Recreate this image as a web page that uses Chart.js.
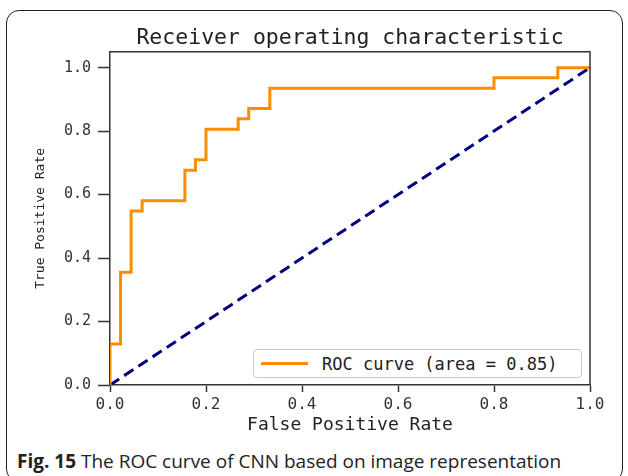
<!DOCTYPE html>
<html lang="en">
<head>
  <meta charset="UTF-8">
  <title>Receiver operating characteristic</title>
  <script src="https://cdn.jsdelivr.net/npm/chart.js"></script>
  <style>
    body {
      margin: 0;
      background: #ffffff;
      width: 628px;
      height: 476px;
      overflow: hidden;
      position: relative;
    }
    .frame {
      position: absolute;
      left: 6px;
      top: 10px;
      width: 617px;
      height: 472px;
      border: 1.5px solid #222;
      border-radius: 13px;
      box-sizing: border-box;
    }
    .chart-box {
      position: absolute;
      left: 0;
      top: 0;
      width: 628px;
      height: 440px;
    }
    .legend {
      position: absolute;
      left: 253px;
      top: 349px;
      width: 329px;
      height: 29px;
      border: 1px solid #cccccc;
      border-radius: 4px;
      background: #ffffff;
      box-sizing: border-box;
      font-family: "DejaVu Sans Mono", monospace;
      font-size: 17px;
      color: #222;
    }
    .legend .swatch {
      position: absolute;
      left: 7px;
      top: 12px;
      width: 47px;
      height: 3px;
      background: #ff8c00;
    }
    .legend .label {
      position: absolute;
      left: 68px;
      top: 4px;
      white-space: pre;
    }
    .caption {
      position: absolute;
      left: 17px;
      top: 448px;
      font-family: "Open Sans", sans-serif;
      font-size: 19px;
      color: #222;
      white-space: nowrap;
    }
  </style>
</head>
<body>
  <div class="frame"></div>
  <div class="chart-box">
    <canvas id="myChart" width="628" height="440"></canvas>
  </div>
  <div class="legend" id="legend"></div>
  <div class="caption"><b>Fig. 15</b> The ROC curve of CNN based on image representation</div>

  <script>
    // ROC curve corners
    const fpr = [0, 0, 0.022, 0.022, 0.044, 0.044, 0.067, 0.067, 0.156, 0.156, 0.178, 0.178,
                 0.2, 0.2, 0.267, 0.267, 0.289, 0.289, 0.333, 0.333, 0.8, 0.8, 0.933, 0.933, 1.0];
    const tpr = [0, 0.129, 0.129, 0.355, 0.355, 0.548, 0.548, 0.581, 0.581, 0.677, 0.677, 0.71,
                 0.71, 0.806, 0.806, 0.839, 0.839, 0.871, 0.871, 0.935, 0.935, 0.968, 0.968, 1.0, 1.0];
    // chance line
    const chanceX = [0, 1];
    const chanceY = [0, 1];
    const rocLabel = 'ROC curve (area = 0.85)';
    const yTickValues = [0, 0.2, 0.4, 0.6, 0.8, 1.0];

    const toPoints = (xs, ys) => xs.map((x, i) => ({ x: x, y: ys[i] }));

    // draw the top and right spines too
    const boxPlugin = {
      id: 'box',
      afterDraw(chart) {
        const { ctx, chartArea } = chart;
        ctx.save();
        ctx.strokeStyle = '#333';
        ctx.lineWidth = 1.5;
        ctx.beginPath();
        ctx.moveTo(chartArea.left, chartArea.top);
        ctx.lineTo(chartArea.right, chartArea.top);
        ctx.lineTo(chartArea.right, chartArea.bottom);
        ctx.stroke();
        ctx.restore();
      }
    };

    const mono = '"DejaVu Sans Mono", monospace';

    const config = {
      type: 'scatter',
      data: {
        datasets: [
          {
            label: rocLabel,
            data: toPoints(fpr, tpr),
            showLine: true,
            borderColor: '#ff8c00',
            borderWidth: 3,
            pointRadius: 0,
            tension: 0
          },
          {
            label: 'chance',
            data: toPoints(chanceX, chanceY),
            showLine: true,
            borderColor: '#000080',
            borderWidth: 3,
            borderDash: [11, 6],
            pointRadius: 0
          }
        ]
      },
      options: {
        responsive: false,
        animation: false,
        layout: {
          padding: { left: 0, right: 38, top: 0, bottom: 2 }
        },
        plugins: {
          legend: { display: false },
          tooltip: { enabled: false },
          title: {
            display: true,
            fullSize: false,
            text: 'Receiver operating characteristic',
            color: '#222',
            font: { family: mono, size: 21.5, weight: 'normal' },
            padding: { top: 26, bottom: 0 }
          }
        },
        scales: {
          x: {
            type: 'linear',
            min: 0,
            max: 1,
            border: { display: true, color: '#333', width: 1.5 },
            grid: { drawOnChartArea: false, drawTicks: true, tickLength: 7, color: '#333', tickWidth: 1.5 },
            ticks: {
              stepSize: 0.2,
              padding: 3,
              color: '#333',
              font: { family: mono, size: 16 },
              maxRotation: 0,
              callback: v => v.toFixed(1)
            },
            title: {
              display: true,
              text: 'False Positive Rate',
              color: '#222',
              font: { family: mono, size: 18 },
              padding: { top: 0, bottom: 2 }
            },
            afterFit(scale) { scale.height = 53; }
          },
          y: {
            type: 'linear',
            min: 0,
            max: 1.05,
            border: { display: true, color: '#333', width: 1.5 },
            grid: { drawOnChartArea: false, drawTicks: true, tickLength: 12, color: '#333', tickWidth: 1.5 },
            ticks: {
              stepSize: 0.2,
              padding: 7,
              color: '#333',
              font: { family: mono, size: 15 },
              callback: v => v.toFixed(1)
            },
            afterBuildTicks(scale) {
              scale.ticks = yTickValues.map(v => ({ value: v }));
            },
            title: {
              display: true,
              text: 'True Positive Rate',
              color: '#222',
              font: { family: mono, size: 13 },
              padding: { top: 33, bottom: 0 }
            },
            afterFit(scale) { scale.width = 110; }
          }
        }
      },
      plugins: [boxPlugin]
    };

    const ctx = document.getElementById('myChart').getContext('2d');
    const myChart = new Chart(ctx, config);

    // legend box in the lower right, like matplotlib's
    const legend = document.getElementById('legend');
    legend.innerHTML = '<span class="swatch"></span><span class="label"></span>';
    legend.querySelector('.label').textContent = myChart.data.datasets[0].label;
  </script>
</body>
</html>
